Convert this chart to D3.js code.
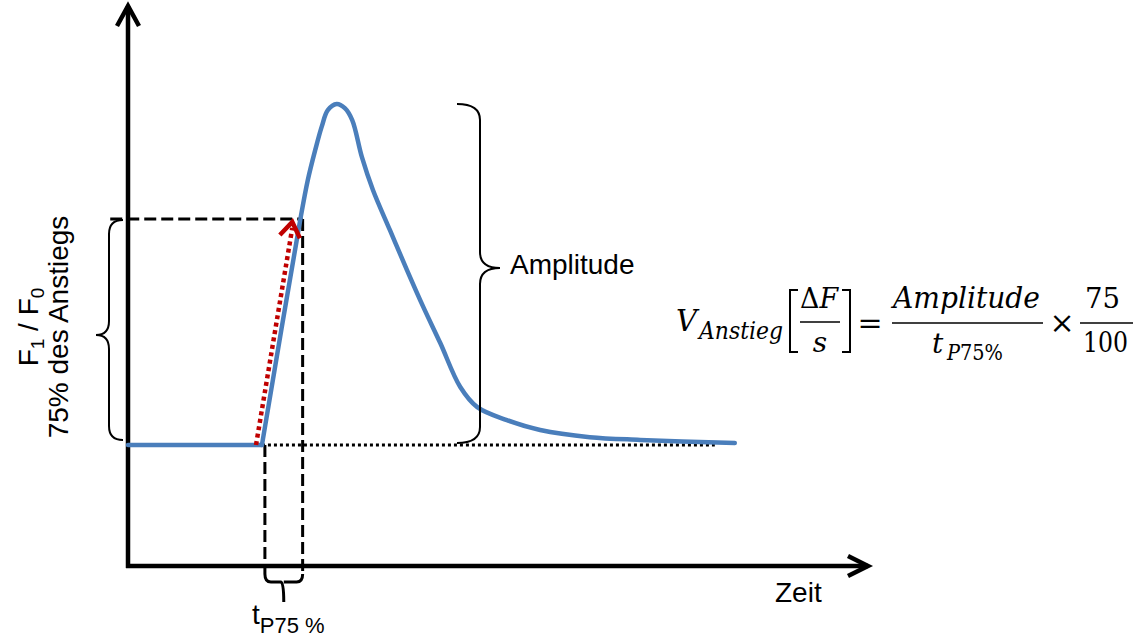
<!DOCTYPE html>
<html>
<head>
<meta charset="utf-8">
<script src="https://cdn.jsdelivr.net/npm/d3@7"></script>
<style>
  body { margin: 0; background: #fff; }
  svg { display: block; }
  text { font-family: Arial, "Liberation Sans", sans-serif; fill: #000; }
  text.math { font-family: "DejaVu Serif", serif; }
</style>
</head>
<body>
<div id="chart"></div>
<script>
// Fluorescence signal F1/F0 over time (schematic values)
const timeS = [0, 18.1, 23.2, 24.3, 25.3, 26.2, 27.0, 28.2, 29.3, 30.3, 31.6, 33.1, 35.4, 37.7, 39.9, 42.2, 44.9, 47.2, 51.2, 55.7, 62.4, 69.2, 82.0];
const ratio = [1.0, 1.0, 1.651, 1.777, 1.865, 1.935, 1.982, 2.0, 1.988, 1.953, 1.845, 1.748, 1.630, 1.513, 1.405, 1.299, 1.170, 1.111, 1.073, 1.044, 1.023, 1.015, 1.006];
const riseStart = 1; // index where the signal leaves the baseline

// helper lines
const baseLevel = 1.0;
const level75 = 1.663;
const tStart = 18.5;
const t75 = 23.6;
const levelLineStart = -2.4;
const baseLineRange = [18.1, 79.3];
const slopeArrow = { t: [17.3, 22.2], v: [1.0, 1.654] };
const ampRange = [1.0, 2.0];

// labels
const yLabel1 = ['F', '1', ' / F', '0'];
const yLabel2 = '75% des Anstiegs';
const xLabel = 'Zeit';
const ampLabel = 'Amplitude';

const data = timeS.map((t, i) => ({ t: t, v: ratio[i] }));

const W = 1143, H = 638;
const svg = d3.select('#chart').append('svg').attr('width', W).attr('height', H);

const x = d3.scaleLinear().domain([0, 100]).range([128, 868]);
const y = d3.scaleLinear().domain([1, 2]).range([445, 104]);
const axisY = 566, axisTop = 6, tickBottom = 574;

// axes with open arrow heads
svg.append('line')
  .attr('x1', x(0) - 2).attr('x2', x(100)).attr('y1', axisY).attr('y2', axisY)
  .attr('stroke', '#000').attr('stroke-width', 4.5);
svg.append('line')
  .attr('x1', x(0)).attr('x2', x(0)).attr('y1', axisY + 2).attr('y2', axisTop)
  .attr('stroke', '#000').attr('stroke-width', 4.5);
svg.append('path')
  .attr('d', `M${x(100) - 20},${axisY - 10} L${x(100)},${axisY} L${x(100) - 20},${axisY + 10}`)
  .attr('fill', 'none').attr('stroke', '#000').attr('stroke-width', 4.5);
svg.append('path')
  .attr('d', `M${x(0) - 11},${axisTop + 20} L${x(0)},${axisTop} L${x(0) + 11},${axisTop + 20}`)
  .attr('fill', 'none').attr('stroke', '#000').attr('stroke-width', 4.5);

// dashed / dotted guide lines
const dashed = sel => sel.attr('stroke', '#000').attr('stroke-width', 3).attr('stroke-dasharray', '12 5').attr('fill', 'none');
svg.append('line').call(dashed)
  .attr('x1', x(levelLineStart)).attr('x2', x(t75)).attr('y1', y(level75)).attr('y2', y(level75));
svg.append('line').call(dashed)
  .attr('x1', x(t75)).attr('x2', x(t75)).attr('y1', y(level75)).attr('y2', tickBottom);
svg.append('line').call(dashed)
  .attr('x1', x(tStart)).attr('x2', x(tStart)).attr('y1', y(baseLevel)).attr('y2', tickBottom);
svg.append('line')
  .attr('x1', x(baseLineRange[0])).attr('x2', x(baseLineRange[1]))
  .attr('y1', y(baseLevel)).attr('y2', y(baseLevel))
  .attr('stroke', '#000').attr('stroke-width', 3).attr('stroke-dasharray', '3 3');

// signal curve: flat baseline, then smooth rise, peak and decay
const lineLin = d3.line().x(d => x(d.t)).y(d => y(d.v));
const lineSmooth = d3.line().x(d => x(d.t)).y(d => y(d.v)).curve(d3.curveCatmullRom.alpha(0.5));
svg.append('path').datum(data.slice(0, riseStart + 1))
  .attr('d', lineLin).attr('fill', 'none').attr('stroke', '#4a7ebb')
  .attr('stroke-width', 4.5).attr('stroke-linecap', 'round');
svg.append('path').datum(data.slice(riseStart))
  .attr('d', lineSmooth).attr('fill', 'none').attr('stroke', '#4a7ebb')
  .attr('stroke-width', 4.5).attr('stroke-linecap', 'round');

// red dotted slope arrow
const ax1 = x(slopeArrow.t[0]), ay1 = y(slopeArrow.v[0]);
const ax2 = x(slopeArrow.t[1]), ay2 = y(slopeArrow.v[1]);
svg.append('line')
  .attr('x1', ax1).attr('y1', ay1).attr('x2', ax2).attr('y2', ay2 + 6)
  .attr('stroke', '#c00000').attr('stroke-width', 4.5).attr('stroke-dasharray', '4 3.5');
const ang = Math.atan2(ay2 - ay1, ax2 - ax1);
const headLen = 18, headSpread = 0.6;
svg.append('path')
  .attr('d', `M${ax2 - headLen * Math.cos(ang - headSpread)},${ay2 - headLen * Math.sin(ang - headSpread)}
    L${ax2},${ay2} L${ax2 - headLen * Math.cos(ang + headSpread)},${ay2 - headLen * Math.sin(ang + headSpread)}`)
  .attr('fill', 'none').attr('stroke', '#c00000').attr('stroke-width', 4.5);

// curly braces
const vBrace = (xEnd, xBody, xTip, y1, y2, ym, r) =>
  `M${xEnd},${y1} Q${xBody},${y1} ${xBody},${y1 + r} L${xBody},${ym - r} Q${xBody},${ym} ${xTip},${ym}` +
  ` Q${xBody},${ym} ${xBody},${ym + r} L${xBody},${y2 - r} Q${xBody},${y2} ${xEnd},${y2}`;
svg.append('path')
  .attr('d', vBrace(123, 109, 96, y(level75) + 1, y(baseLevel) - 5, 335, 14))
  .attr('fill', 'none').attr('stroke', '#000').attr('stroke-width', 2);
svg.append('path')
  .attr('d', vBrace(457, 480, 500, y(ampRange[1]), y(ampRange[0]) - 2, 268, 16))
  .attr('fill', 'none').attr('stroke', '#000').attr('stroke-width', 2);
// bottom brace under t75 interval
const bx1 = x(tStart), bx2 = x(t75), bm = (bx1 + bx2) / 2, by = 582;
svg.append('path')
  .attr('d', `M${bx1},${tickBottom} Q${bx1},${by} ${bx1 + 6},${by} L${bm - 3},${by} Q${bm},${by} ${bm},${by + 20}` +
    ` M${bm},${by} Q${bm},${by} ${bm + 3},${by} L${bx2 - 6},${by} Q${bx2},${by} ${bx2},${tickBottom}`)
  .attr('fill', 'none').attr('stroke', '#000').attr('stroke-width', 3);

// text labels
svg.append('text').attr('x', 510).attr('y', 274).attr('font-size', 28).text(ampLabel);
svg.append('text').attr('x', 775).attr('y', 602).attr('font-size', 28).text(xLabel);

const tl = svg.append('text').attr('x', 252).attr('y', 624).attr('font-size', 28);
tl.append('tspan').text('t');
tl.append('tspan').attr('font-size', 22).attr('dy', 9).text('P75 %');

const yl = svg.append('g').attr('transform', 'translate(0,327) rotate(-90)');
const y1t = yl.append('text').attr('x', 0).attr('y', 38).attr('text-anchor', 'middle').attr('font-size', 28);
yLabel1.forEach((s, i) => {
  const sp = y1t.append('tspan').text(s);
  if (i % 2 === 1) sp.attr('font-size', 19).attr('dy', 6);
  else if (i > 0) sp.attr('dy', -6);
});
yl.append('text').attr('x', 0).attr('y', 68).attr('text-anchor', 'middle').attr('font-size', 28).text(yLabel2);

// formula
const f = svg.append('g');
const mtext = (tx, ty, s, size, opts) => {
  opts = opts || {};
  const t = f.append('text').attr('class', 'math').attr('x', tx).attr('y', ty).attr('font-size', size).text(s);
  if (opts.italic) t.attr('font-style', 'italic');
  if (opts.anchor) t.attr('text-anchor', opts.anchor);
  if (opts.len) t.attr('textLength', opts.len).attr('lengthAdjust', 'spacingAndGlyphs');
  return t;
};
const rule = (x1, x2, yy) => f.append('line').attr('x1', x1).attr('x2', x2).attr('y1', yy).attr('y2', yy)
  .attr('stroke', '#000').attr('stroke-width', 1.4);
mtext(676, 331, 'V', 30, { italic: true, len: 21 });
mtext(699, 339, 'Anstieg', 24, { italic: true, len: 84 });
f.append('path').attr('d', 'M798,290 H790 V352 H798').attr('fill', 'none').attr('stroke', '#000').attr('stroke-width', 2);
f.append('path').attr('d', 'M842,290 H850 V352 H842').attr('fill', 'none').attr('stroke', '#000').attr('stroke-width', 2);
const df = mtext(800, 308, '', 28, { len: 38 });
df.append('tspan').text('Δ');
df.append('tspan').attr('font-style', 'italic').text('F');
rule(800, 840, 322);
mtext(820, 352, 's', 28, { italic: true, anchor: 'middle' });
mtext(870, 333, '=', 30, { anchor: 'middle' });
mtext(893, 308, 'Amplitude', 30, { italic: true, len: 147 });
rule(892, 1043, 323);
mtext(932, 353, 't', 28, { italic: true });
const sub = mtext(947, 360, '', 22, { len: 56 });
sub.append('tspan').attr('font-style', 'italic').text('P');
sub.append('tspan').text('75%');
mtext(1062, 333, '×', 30, { anchor: 'middle' });
mtext(1085, 308, '75', 28, { len: 35 });
rule(1080, 1133, 323);
mtext(1083, 352, '100', 28, { len: 45 });
</script>
</body>
</html>
